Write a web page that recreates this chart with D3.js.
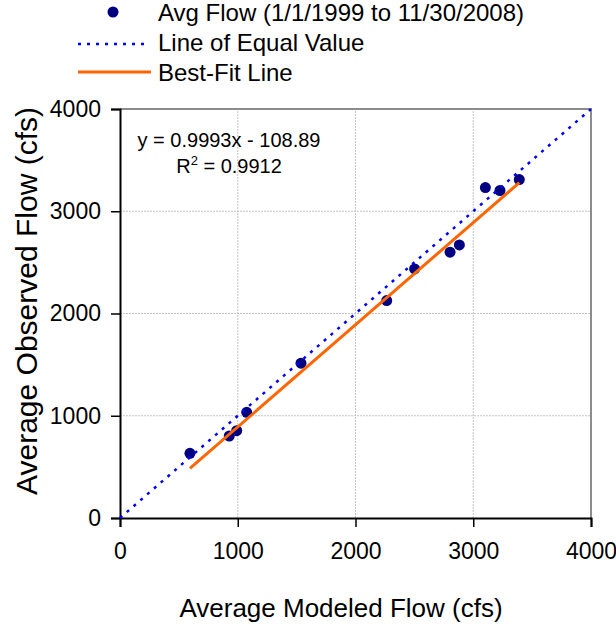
<!DOCTYPE html>
<html>
<head>
<meta charset="utf-8">
<script src="https://cdn.jsdelivr.net/npm/d3@7"></script>
<style>
  body { margin: 0; background: #fff; }
  text { font-family: "Liberation Sans", Arial, sans-serif; fill: #000; }
</style>
</head>
<body>
<svg id="chart" width="616" height="626"></svg>
<script>
// modeled vs observed average flow, cfs
var modeled  = [594, 928, 991, 1076, 1537, 2265, 2502, 2803, 2882, 3103, 3227, 3391];
var observed = [633, 802, 854, 1034, 1514, 2126, 2436, 2600, 2671, 3232, 3203, 3310];
var ticks = [0, 1000, 2000, 3000, 4000];
var slope = 0.9993, intercept = -108.89;
var legendLabels = ["Avg Flow (1/1/1999 to 11/30/2008)", "Line of Equal Value", "Best-Fit Line"];

var svg = d3.select("#chart");

var x = d3.scaleLinear().domain([0, 4000]).range([120, 591]);
var y = d3.scaleLinear().domain([0, 4000]).range([518, 109]);

// gridlines
svg.append("g")
    .selectAll("line.vg")
    .data(ticks.slice(1, 4))
    .enter().append("line")
    .attr("x1", function(d) { return x(d); })
    .attr("x2", function(d) { return x(d); })
    .attr("y1", y(0))
    .attr("y2", y(4000))
    .style("stroke", "#c4c4c4")
    .style("stroke-dasharray", "2,1");

svg.append("g")
    .selectAll("line.hg")
    .data(ticks.slice(1, 4))
    .enter().append("line")
    .attr("y1", function(d) { return y(d); })
    .attr("y2", function(d) { return y(d); })
    .attr("x1", x(0))
    .attr("x2", x(4000))
    .style("stroke", "#c4c4c4")
    .style("stroke-dasharray", "2,1");

// top & right frame
svg.append("path")
    .attr("d", "M" + x(0) + "," + y(4000) + "H" + x(4000) + "V" + y(0))
    .style("fill", "none")
    .style("stroke", "#8c8c8c")
    .style("stroke-width", 2);

// axes
var fmt = d3.format("d");
var xAxis = d3.axisBottom(x).tickValues(ticks).tickFormat(fmt).tickSize(9).tickPadding(16);
var yAxis = d3.axisLeft(y).tickValues(ticks).tickFormat(fmt).tickSize(9).tickPadding(10);

var gx = svg.append("g").attr("transform", "translate(0," + y(0) + ")").call(xAxis);
var gy = svg.append("g").attr("transform", "translate(" + x(0) + ",0)").call(yAxis);

[gx, gy].forEach(function(g) {
    g.select(".domain").style("stroke", "#000").style("stroke-width", 2);
    g.selectAll(".tick line").style("stroke", "#000").style("stroke-width", 1.5);
    g.selectAll(".tick text")
        .style("font-size", "23px")
        .style("font-family", "Liberation Sans, Arial, sans-serif")
        .style("fill", "#000");
});

// points
svg.append("g")
    .selectAll("circle")
    .data(modeled)
    .enter().append("circle")
    .attr("cx", function(d) { return x(d); })
    .attr("cy", function(d, i) { return y(observed[i]); })
    .attr("r", 5.5)
    .style("fill", "#000080");

// line of equal value
svg.append("line")
    .attr("x1", x(0)).attr("y1", y(0))
    .attr("x2", x(4000)).attr("y2", y(4000))
    .style("stroke", "#0000ff")
    .style("stroke-width", 2.5)
    .style("stroke-dasharray", "3,6");

// best-fit line
var xmin = d3.min(modeled), xmax = d3.max(modeled);
svg.append("line")
    .attr("x1", x(xmin)).attr("y1", y(slope * xmin + intercept))
    .attr("x2", x(xmax)).attr("y2", y(slope * xmax + intercept))
    .style("stroke", "#ff6600")
    .style("stroke-width", 3);

// equation
svg.append("text")
    .attr("x", 229).attr("y", 147)
    .attr("text-anchor", "middle")
    .style("font-size", "20px")
    .text("y = " + slope + "x - " + Math.abs(intercept));

var r2 = svg.append("text")
    .attr("x", 229).attr("y", 173)
    .attr("text-anchor", "middle")
    .style("font-size", "20px");
r2.append("tspan").text("R");
r2.append("tspan").attr("dy", -8).style("font-size", "13px").text("2");
r2.append("tspan").attr("dy", 8).text(" = 0.9912");

// legend
var leg = svg.append("g");
leg.append("circle").attr("cx", 113).attr("cy", 12).attr("r", 5.5).style("fill", "#000080");
leg.append("line").attr("x1", 78).attr("x2", 148).attr("y1", 44).attr("y2", 44)
    .style("stroke", "#0000ff").style("stroke-width", 2.5).style("stroke-dasharray", "3,6");
leg.append("line").attr("x1", 78).attr("x2", 151).attr("y1", 72).attr("y2", 72)
    .style("stroke", "#ff6600").style("stroke-width", 3);
leg.selectAll("text")
    .data(legendLabels)
    .enter().append("text")
    .attr("x", 158)
    .attr("y", function(d, i) { return 13 + i * 30; })
    .attr("dy", "0.35em")
    .style("font-size", "24px")
    .text(function(d) { return d; });

// axis titles
svg.append("text")
    .attr("x", 341).attr("y", 617)
    .attr("text-anchor", "middle")
    .style("font-size", "26px")
    .text("Average Modeled Flow (cfs)");

svg.append("text")
    .attr("transform", "translate(37,301) rotate(-90)")
    .attr("text-anchor", "middle")
    .style("font-size", "30px")
    .text("Average Observed Flow (cfs)");
</script>
</body>
</html>
